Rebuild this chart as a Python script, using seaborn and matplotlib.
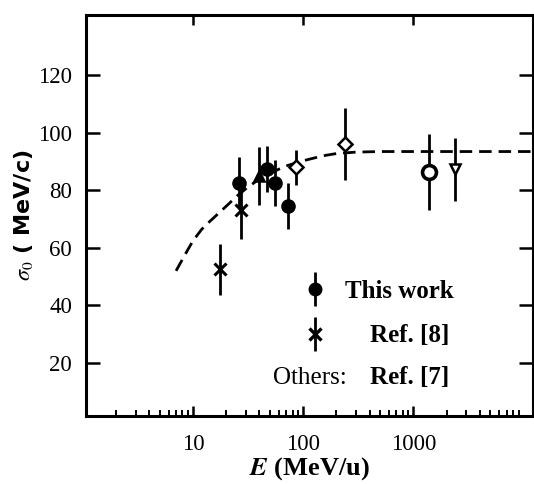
import matplotlib
matplotlib.use("Agg")
import matplotlib.pyplot as plt
import matplotlib.ticker as mticker
from matplotlib.lines import Line2D
import pandas as pd
import seaborn as sns

# --- data ---
# dashed systematics curve
curve_E = [7.0, 8.0, 9.0, 10, 12, 14, 17, 20, 25, 30, 40, 50, 70, 100, 150, 200, 300, 500, 1000, 3000, 12000]
curve_sigma = [52, 56, 59.5, 62.5, 66.5, 69, 72, 74.5, 78, 80.5, 84, 86, 88.5, 90.3, 92, 92.8, 93.3, 93.5, 93.5, 93.5, 93.5]

# this work (filled circles)
this_E = [26, 47, 55, 72]
this_sigma = [82.5, 87.5, 82.5, 74.5]
this_err = [9, 8, 8, 8]

# Ref.[8] (crosses)
ref8_E = [17.6, 27]
ref8_sigma = [52.5, 73]
ref8_err = [9, 10]

# others, Ref.[7]
oth_E = [40, 86, 240, 1380, 2400]
oth_sigma = [85, 88, 96, 86.3, 87.3]
oth_err = [10, 6, 12.5, 13.3, 11]
oth_markers = ["^", "D", "D", "o", "v"]

x_ticks = [10, 100, 1000]
y_ticks = [20, 40, 60, 80, 100, 120]

sns.set_theme(style="white")
plt.rcParams["font.family"] = ["Liberation Serif", "DejaVu Serif"]
plt.rcParams["mathtext.fontset"] = "stix"
for key in ["text.color", "axes.labelcolor", "xtick.color", "ytick.color", "axes.edgecolor"]:
    plt.rcParams[key] = "black"

fig = plt.figure(figsize=(5.34, 4.84), dpi=100)
ax = fig.add_axes([0.161, 0.1405, 0.838, 0.8285])

curve = pd.DataFrame({"E": curve_E, "sigma": curve_sigma})
sns.lineplot(data=curve, x="E", y="sigma", ax=ax, color="black", lw=2,
             linestyle=(0, (4.5, 2.5)), estimator=None, sort=False)

ebar = dict(color="black", elinewidth=2, capsize=0, linestyle="none")
ax.errorbar(this_E, this_sigma, yerr=this_err, marker="o", ms=9.5, mfc="black", mec="black", **ebar)
ax.errorbar(ref8_E, ref8_sigma, yerr=ref8_err, marker="x", ms=9, mew=2.2, **ebar)
for e, s, err, m in zip(oth_E, oth_sigma, oth_err, oth_markers):
    filled = m == "^"
    ax.errorbar([e], [s], yerr=[err], marker=m, ms=10 if m == "o" else 7,
                mfc="black" if filled else "white", mec="black", mew=2.6 if m == "o" else 1.8, **ebar)

ax.set_xscale("log")
ax.set_xlim(1.065, 12300)
ax.set_ylim(1.5, 141)
ax.xaxis.set_major_locator(mticker.FixedLocator(x_ticks))
ax.xaxis.set_major_formatter(mticker.FixedFormatter([str(t) for t in x_ticks]))
ax.xaxis.set_minor_locator(mticker.LogLocator(base=10, subs=range(2, 10), numticks=20))
ax.xaxis.set_minor_formatter(mticker.NullFormatter())
ax.set_yticks(y_ticks)

for sp in ax.spines.values():
    sp.set_linewidth(2.2)
    sp.set_color("black")

ax.tick_params(which="major", direction="in", length=7, width=1.8, labelsize=16.5,
               top=True, right=True, bottom=True, left=True, colors="black")
ax.tick_params(axis="y", which="major", length=10, pad=10)
ax.tick_params(axis="x", which="major", pad=13)
ax.tick_params(which="minor", direction="in", length=4, width=1.4, bottom=True, top=False)

ax.set_xlabel(r"$\mathbfit{E}$ (MeV/u)", fontsize=19, fontweight="bold", labelpad=0)
ax.set_ylabel(r"$\sigma_0$ ( MeV/c)", fontsize=16, fontweight="bold",
              family=["DejaVu Sans"], labelpad=2)

bar = dict(color="black", marker="|", ms=24, mew=2, lw=0)
handles = [
    (Line2D([], [], **bar), Line2D([], [], color="black", marker="o", ms=9, lw=0)),
    (Line2D([], [], **bar), Line2D([], [], color="black", marker="x", ms=9, mew=2.4, lw=0)),
]
leg = ax.legend(handles, ["This work", "    Ref. [8]"], loc="upper left",
                bbox_to_anchor=(0.44, 0.395), frameon=False, handlelength=0.8,
                handletextpad=0.8, labelspacing=0.85,
                prop={"family": "Liberation Serif", "weight": "bold", "size": 18})
ax.text(0.418, 0.096, "Others:", transform=ax.transAxes, fontsize=18,
        ha="left", va="center")
ax.text(0.635, 0.096, "Ref. [7]", transform=ax.transAxes, fontsize=18,
        fontweight="bold", ha="left", va="center")

fig.savefig("out.png", dpi=100)
